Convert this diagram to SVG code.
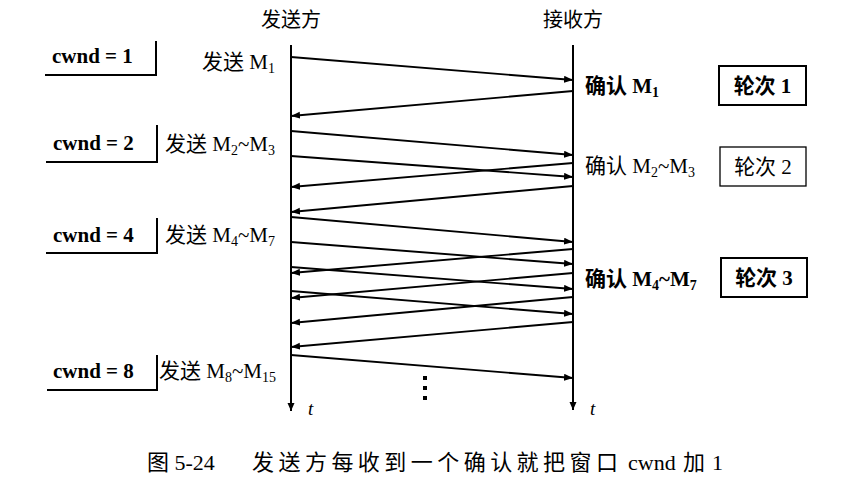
<svg xmlns="http://www.w3.org/2000/svg" width="841" height="481" viewBox="0 0 841 481">
<style>
  text { font-family: "Liberation Serif", "Noto Sans CJK SC", serif; fill: #000; }
  .lbl { font-size: 21px; }
  .b { font-weight: bold; }
  .sub { font-size: 14px; }
  .arr { stroke: #000; stroke-width: 1.9; fill: none; marker-end: url(#ah); }
  .axis { stroke: #000; stroke-width: 2; fill: none; marker-end: url(#axh); }
  .brk { stroke: #000; stroke-width: 2; fill: none; }
  .box { stroke: #000; fill: none; }
</style>
<defs>
  <marker id="ah" markerUnits="userSpaceOnUse" markerWidth="10" markerHeight="8" refX="9" refY="3.5" orient="auto">
    <path d="M0,0 L9,3.5 L0,7 z" fill="#000"/>
  </marker>
  <marker id="axh" markerUnits="userSpaceOnUse" markerWidth="8" markerHeight="10" refX="8" refY="3.5" orient="auto">
    <path d="M0,0 L8,3.5 L0,7 z" fill="#000"/>
  </marker>
</defs>
<rect width="841" height="481" fill="#fff"/>

<g id="sender">
  <text x="291" y="27" text-anchor="middle" font-size="20">发送方</text>
  <line class="axis" x1="291" y1="45" x2="291" y2="411"/>
  <text x="308" y="415" font-size="19" font-style="italic">t</text>
</g>
<g id="receiver">
  <text x="573" y="27" text-anchor="middle" font-size="20">接收方</text>
  <line class="axis" x1="573" y1="45" x2="573" y2="410"/>
  <text x="590" y="415" font-size="19" font-style="italic">t</text>
</g>

<g id="cwnd1">
  <path class="brk" d="M45,75 H156 V41"/>
  <text class="lbl b" x="52" y="63">cwnd = 1</text>
</g>
<g id="cwnd2">
  <path class="brk" d="M46,162 H157 V125"/>
  <text class="lbl b" x="53" y="150">cwnd = 2</text>
</g>
<g id="cwnd4">
  <path class="brk" d="M46,253 H157 V218"/>
  <text class="lbl b" x="53" y="242">cwnd = 4</text>
</g>
<g id="cwnd8">
  <path class="brk" d="M47,390 H157 V355"/>
  <text class="lbl b" x="53" y="378">cwnd = 8</text>
</g>

<g id="send1">
  <text class="lbl" x="202" y="69">发送 M<tspan class="sub" dy="4">1</tspan></text>
</g>
<g id="send2">
  <text class="lbl" x="165" y="151">发送 M<tspan class="sub" dy="4">2</tspan><tspan dy="-4">~M</tspan><tspan class="sub" dy="4">3</tspan></text>
</g>
<g id="send3">
  <text class="lbl" x="165" y="242">发送 M<tspan class="sub" dy="4">4</tspan><tspan dy="-4">~M</tspan><tspan class="sub" dy="4">7</tspan></text>
</g>
<g id="send4">
  <text class="lbl" x="159" y="378">发送 M<tspan class="sub" dy="4">8</tspan><tspan dy="-4">~M</tspan><tspan class="sub" dy="4">15</tspan></text>
</g>

<g id="ack1">
  <text class="lbl b" x="585" y="93">确认 M<tspan class="sub" dy="4">1</tspan></text>
</g>
<g id="ack2">
  <text class="lbl" x="585" y="173">确认 M<tspan class="sub" dy="4">2</tspan><tspan dy="-4">~M</tspan><tspan class="sub" dy="4">3</tspan></text>
</g>
<g id="ack3">
  <text class="lbl b" x="585" y="286">确认 M<tspan class="sub" dy="4">4</tspan><tspan dy="-4">~M</tspan><tspan class="sub" dy="4">7</tspan></text>
</g>

<g id="round1">
  <rect class="box" x="719" y="66" width="87" height="39" stroke-width="2"/>
  <text class="lbl b" x="762.5" y="93" text-anchor="middle">轮次 1</text>
</g>
<g id="round2">
  <rect class="box" x="720" y="147" width="86" height="39" stroke-width="1.3"/>
  <text class="lbl" x="763" y="174" text-anchor="middle">轮次 2</text>
</g>
<g id="round3">
  <rect class="box" x="721" y="258" width="86" height="39" stroke-width="2"/>
  <text class="lbl b" x="764" y="285" text-anchor="middle">轮次 3</text>
</g>

<g id="connectors">
  <line class="arr" x1="291" y1="57" x2="573" y2="80"/>
  <line class="arr" x1="573" y1="91" x2="291" y2="116"/>
  <line class="arr" x1="291" y1="131" x2="573" y2="155"/>
  <line class="arr" x1="291" y1="156" x2="573" y2="177"/>
  <line class="arr" x1="573" y1="163" x2="291" y2="187"/>
  <line class="arr" x1="573" y1="186" x2="291" y2="212"/>
  <line class="arr" x1="291" y1="217" x2="573" y2="242"/>
  <line class="arr" x1="291" y1="242" x2="573" y2="264"/>
  <line class="arr" x1="573" y1="249" x2="291" y2="273"/>
  <line class="arr" x1="291" y1="267" x2="573" y2="289"/>
  <line class="arr" x1="573" y1="273" x2="291" y2="298"/>
  <line class="arr" x1="291" y1="291" x2="573" y2="314"/>
  <line class="arr" x1="573" y1="297" x2="291" y2="323"/>
  <line class="arr" x1="573" y1="322" x2="291" y2="347"/>
  <line class="arr" x1="291" y1="355" x2="573" y2="378"/>
</g>

<g id="ellipsis" fill="#000">
  <rect x="423" y="376" width="4" height="4"/>
  <rect x="423" y="386" width="4" height="4"/>
  <rect x="423" y="396" width="4" height="4"/>
</g>

<g id="caption">
  <text x="147" y="470" font-size="22">图 5-24<tspan x="252" textLength="366" lengthAdjust="spacing">发送方每收到一个确认就把窗口</tspan><tspan x="628">cwnd</tspan><tspan x="683">加</tspan><tspan x="712">1</tspan></text>
</g>
</svg>
